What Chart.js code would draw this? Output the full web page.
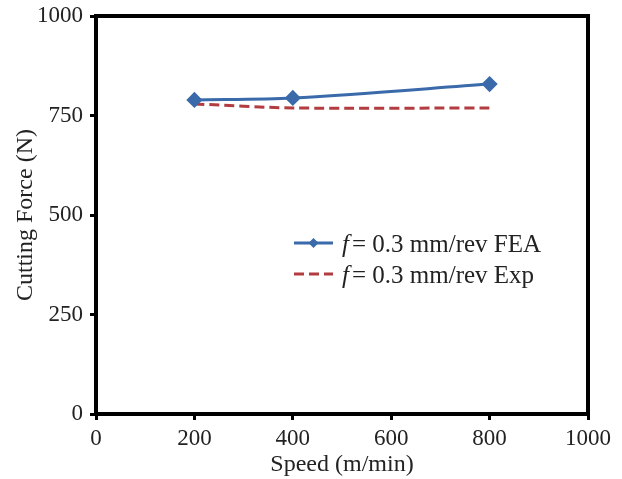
<!DOCTYPE html>
<html><head><meta charset="utf-8">
<script src="https://cdn.jsdelivr.net/npm/chart.js@4/dist/chart.umd.min.js"></script>
<style>html,body{margin:0;padding:0;background:#fff}#wrap{width:622px;height:479px}</style>
</head><body><div id="wrap"><canvas id="c" width="622" height="479"></canvas></div>
<script>
const speeds = [200, 400, 800];
const feaForce = [789, 794, 829];
const expForce = [779, 769, 769];
const xTicks = [0, 200, 400, 600, 800, 1000];
const yTicks = [0, 250, 500, 750, 1000];
const labelFEA = "= 0.3 mm/rev FEA";
const labelExp = "= 0.3 mm/rev Exp";
const blue = '#3a6aa9', red = '#b23c40';
const FONT = '"Liberation Serif", "Times New Roman", serif';

const framePlugin = {
  id: 'frame',
  afterDraw(chart) {
    const {ctx, chartArea: a} = chart;
    ctx.save();
    ctx.strokeStyle = '#000'; ctx.lineWidth = 4;
    ctx.strokeRect(a.left, a.top, a.right - a.left, a.bottom - a.top);
    const rows = [
      {label: labelFEA, color: blue, dash: [], marker: true},
      {label: labelExp, color: red, dash: [10, 5], marker: false}
    ];
    const x0 = 294, x1 = 333;
    rows.forEach((r, i) => {
      const y = 243 + i * 31;
      ctx.strokeStyle = r.color; ctx.lineWidth = 3; ctx.setLineDash(r.dash);
      ctx.beginPath(); ctx.moveTo(x0, y); ctx.lineTo(x1, y); ctx.stroke();
      ctx.setLineDash([]);
      if (r.marker) {
        ctx.fillStyle = r.color; ctx.beginPath();
        const cx = (x0 + x1) / 2;
        ctx.moveTo(cx, y - 5); ctx.lineTo(cx + 5, y); ctx.lineTo(cx, y + 5); ctx.lineTo(cx - 5, y); ctx.closePath(); ctx.fill();
      }
      ctx.fillStyle = '#222'; ctx.textBaseline = 'middle'; ctx.textAlign = 'left';
      ctx.font = 'italic 25px ' + FONT;
      ctx.fillText('f', 342, y + 2);
      const fw = ctx.measureText('f').width;
      ctx.font = '25px ' + FONT;
      ctx.fillText(r.label, 342 + fw + 3, y + 2);
    });
    ctx.restore();
  }
};

new Chart(document.getElementById('c'), {
  type: 'line',
  data: {
    datasets: [
      {label: 'f ' + labelFEA, data: speeds.map((s, i) => ({x: s, y: feaForce[i]})),
       borderColor: blue, backgroundColor: blue, borderWidth: 3, tension: 0.3,
       pointStyle: 'rectRot', pointRadius: 6, pointHoverRadius: 6},
      {label: 'f ' + labelExp, data: speeds.map((s, i) => ({x: s, y: expForce[i]})),
       borderColor: red, backgroundColor: red, borderWidth: 3, borderDash: [10, 5], tension: 0.3,
       pointRadius: 0}
    ]
  },
  options: {
    responsive: false, animation: false,
    layout: {padding: {top: 16, right: 34, left: 0, bottom: 0}},
    plugins: {legend: {display: false}, tooltip: {enabled: false}},
    scales: {
      x: {type: 'linear', min: 0, max: 1000,
        afterBuildTicks: s => { s.ticks = xTicks.map(v => ({value: v})); },
        afterFit: s => { s.height = 65; s.paddingLeft = 0; s.paddingRight = 0; },
        grid: {drawOnChartArea: false, drawTicks: true, tickLength: 6, tickColor: '#000', tickWidth: 3},
        border: {color: '#000', width: 4},
        ticks: {color: '#222', font: {family: FONT, size: 23}, padding: 5, maxRotation: 0, callback: v => String(v)},
        title: {display: true, text: 'Speed (m/min)', color: '#222', font: {family: FONT, size: 24}, padding: {top: 0, bottom: 0}}
      },
      y: {min: 0, max: 1000,
        afterBuildTicks: s => { s.ticks = yTicks.map(v => ({value: v})); },
        afterFit: s => { s.width = 96; s.paddingTop = 0; s.paddingBottom = 0; },
        grid: {drawOnChartArea: false, drawTicks: true, tickLength: 6, tickColor: '#000', tickWidth: 3},
        border: {color: '#000', width: 4},
        ticks: {color: '#222', font: {family: FONT, size: 23}, padding: 7, callback: v => String(v)},
        title: {display: true, text: 'Cutting Force (N)', color: '#222', font: {family: FONT, size: 24}, padding: {top: 11, bottom: 0}}
      }
    }
  },
  plugins: [framePlugin]
});
</script></body></html>
